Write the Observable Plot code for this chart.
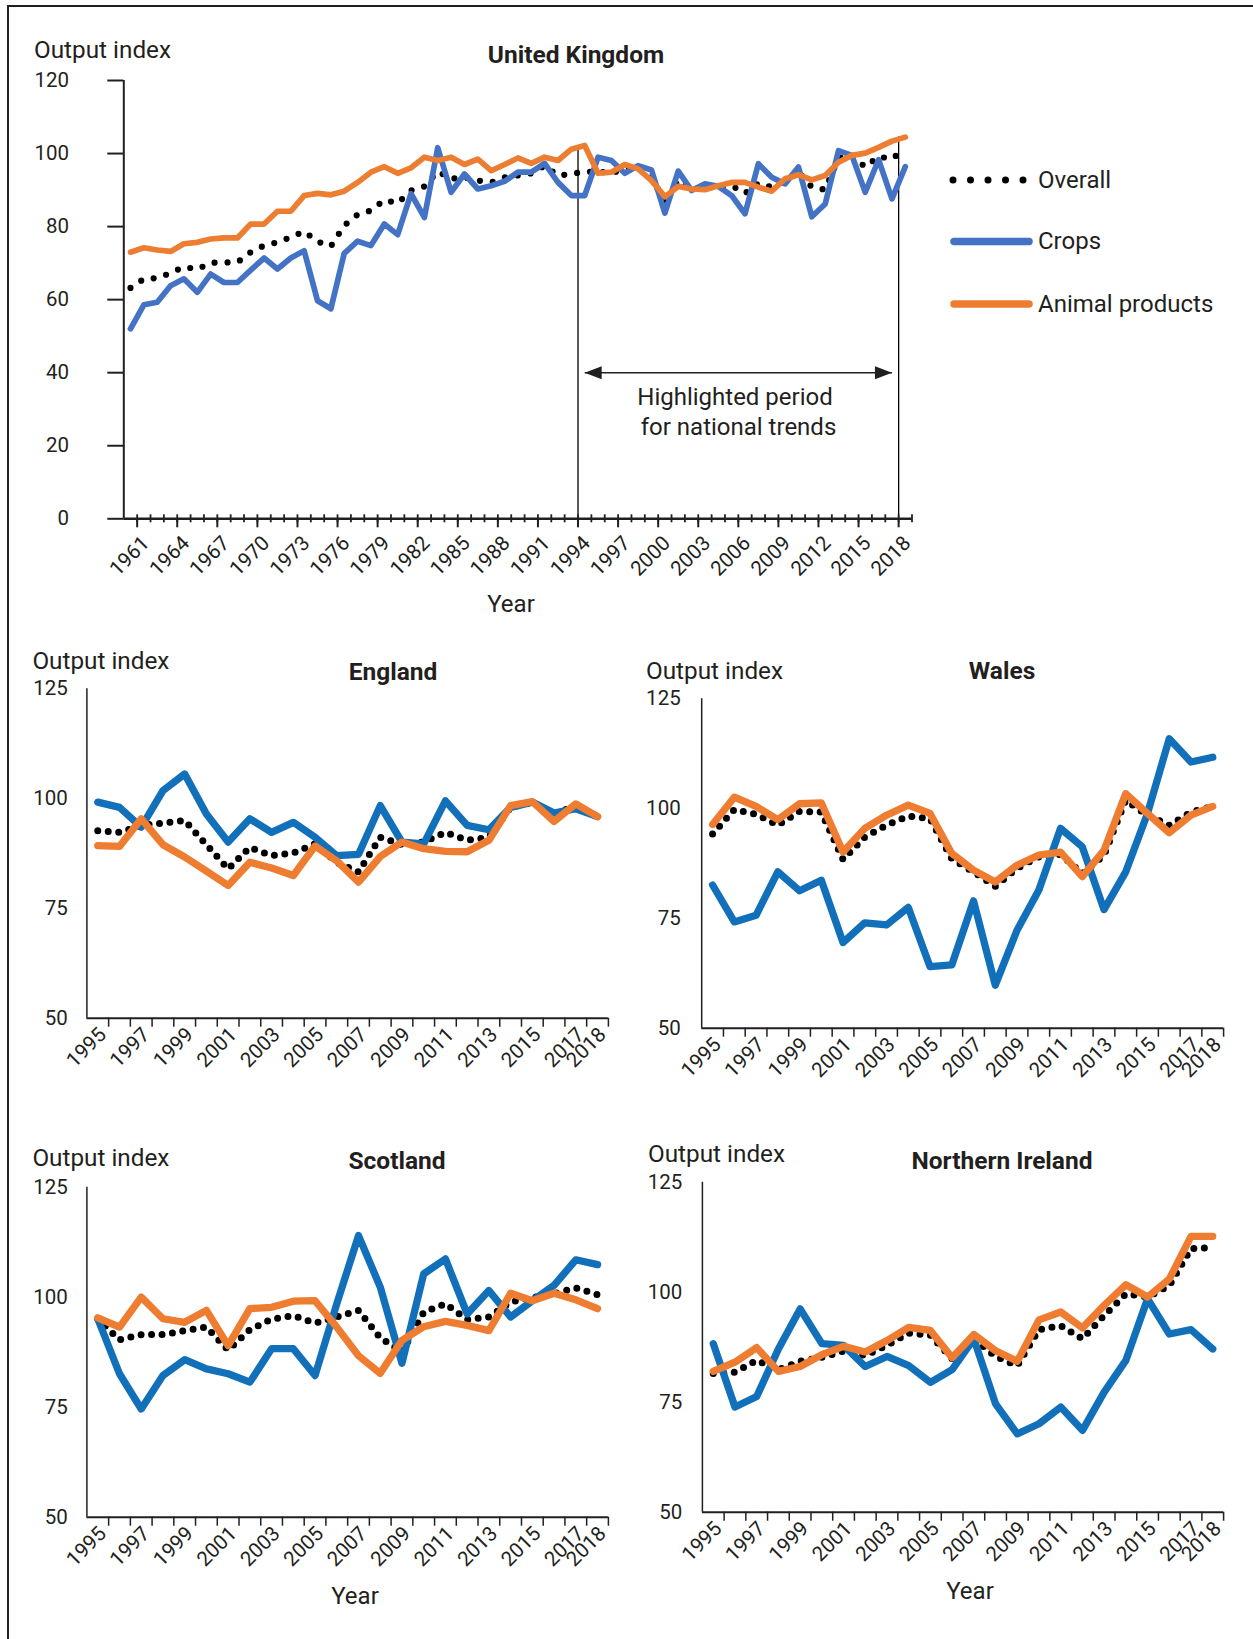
<!DOCTYPE html>
<html><head><meta charset="utf-8">
<script src="https://cdn.jsdelivr.net/npm/d3@7"></script>
<script src="https://cdn.jsdelivr.net/npm/@observablehq/plot@0.6"></script>
<style>
html,body{margin:0;padding:0;background:#fff;}
body{width:1253px;height:1639px;position:relative;overflow:hidden;font-family:Roboto,"Noto Sans",sans-serif;color:#231f20;}
.frame{position:absolute;left:7px;top:5px;right:-5px;bottom:-5px;border-top:2.5px solid #231f20;border-left:2.5px solid #231f20;}
.t{position:absolute;white-space:nowrap;line-height:1;}
.panel{position:absolute;}
.panel svg{background:transparent;}
</style></head><body>
<div class="frame"></div>
<script>
// ---------- Data ----------
const seriesNames = ["Overall", "Crops", "Animal products"];

// United Kingdom, one value per year
const ukYears = d3.range(1960, 2019);
const ukTickYears = [1961,1964,1967,1970,1973,1976,1979,1982,1985,1988,1991,1994,1997,2000,2003,2006,2009,2012,2015,2018];
const ukYTicks = [0, 20, 40, 60, 80, 100, 120];
const highlightYears = [1994, 2018];
const ukOverall = [63.2,65.7,65.9,67.3,69.0,68.3,70.1,70.2,70.2,73.0,74.8,75.7,77.1,78.7,75.9,74.6,80.3,83.3,84.4,87.3,86.4,89.9,91.0,95.1,93.1,93.5,92.6,92.1,93.5,94.0,94.6,96.7,94.0,94.4,95.1,94.9,94.9,95.3,96.0,93.8,86.4,92.7,90.1,90.8,91.1,91.2,89.1,91.9,90.8,92.5,95.0,90.8,90.1,98.8,99.5,96.3,99.2,98.5,101.5];
const ukCrops = [52.0,58.6,59.3,63.8,65.7,62.0,67.0,64.7,64.7,68.1,71.4,68.4,71.4,73.4,59.7,57.5,72.7,76.0,74.8,80.7,77.8,89.0,82.5,101.6,89.4,94.4,90.3,91.2,92.4,94.9,94.9,97.3,92.1,88.5,88.5,99.0,98.1,94.6,96.7,95.5,83.7,95.2,89.9,91.7,91.0,88.5,83.5,97.2,93.5,91.7,96.3,82.7,86.2,100.8,99.5,89.4,98.3,87.6,96.4];
const ukAnimal = [73.0,74.2,73.6,73.2,75.3,75.7,76.6,76.9,76.9,80.7,80.7,84.2,84.2,88.5,89.1,88.7,89.7,92.1,94.9,96.4,94.6,96.1,99.0,98.1,99.0,97.0,98.5,95.3,97.0,98.8,97.3,99.0,98.1,101.2,102.2,94.6,94.9,97.0,95.8,92.6,88.2,91.0,90.3,90.1,91.2,92.1,92.1,90.8,89.7,93.1,94.2,92.8,94.0,97.6,99.5,100.1,101.7,103.4,104.5];

// National panels 1995-2018
const natYears = d3.range(1995, 2019);
const natTickYears = [1995,1997,1999,2001,2003,2005,2007,2009,2011,2013,2015,2017,2018];
const natYTicks = [50, 75, 100, 125];

const englandOverall = [92.7,92.3,93.9,94.4,95.0,89.5,84.0,88.9,87.0,87.6,89.7,85.5,83.3,91.2,89.5,90.1,92.3,90.5,91.2,98.0,99.2,96.5,98.4,95.9];
const englandCrops   = [99.2,98.0,93.5,101.8,105.6,96.5,90.1,95.4,92.3,94.6,91.2,87.0,87.3,98.4,90.1,89.7,99.5,93.9,92.9,98.0,99.2,96.7,97.7,95.9];
const englandAnimal  = [89.3,89.1,95.4,89.5,86.7,83.5,80.2,85.5,84.2,82.5,89.2,85.8,81.0,86.8,90.1,88.6,88.0,87.9,90.5,98.4,99.3,94.8,98.8,95.9];

const walesOverall = [94.2,99.8,98.7,96.2,99.4,99.2,88.4,93.5,96.2,98.3,97.7,88.6,85.6,82.3,86.4,89.0,89.6,85.2,89.4,101.9,98.5,96.2,99.2,100.5];
const walesCrops   = [82.6,74.2,75.7,85.6,81.3,83.7,69.5,74.0,73.5,77.5,64.0,64.4,79.0,59.8,72.3,81.4,95.5,91.3,77.0,85.6,98.9,115.9,110.6,111.7];
const walesAnimal  = [96.4,102.6,100.5,97.5,101.1,101.3,90.1,95.5,98.5,100.8,98.9,89.8,86.0,83.3,87.1,89.4,90.1,84.5,90.5,103.4,98.9,94.5,98.5,100.5];

const scotlandOverall = [95.1,90.3,91.5,91.5,92.4,93.2,88.0,92.6,95.0,95.8,94.1,95.5,97.0,90.8,87.5,96.6,98.5,94.9,95.5,98.9,99.9,100.8,102.1,100.6];
const scotlandCrops   = [95.1,82.6,74.6,82.2,85.8,83.7,82.6,80.7,88.3,88.3,82.2,98.5,114.0,102.3,85.0,105.3,108.7,96.2,101.5,95.5,99.2,102.7,108.5,107.4];
const scotlandAnimal  = [95.3,93.2,100.0,95.1,94.3,97.0,89.0,97.4,97.7,99.1,99.2,93.2,86.7,82.7,90.2,93.3,94.5,93.6,92.4,100.9,99.2,100.9,99.4,97.4];

const niOverall = [81.5,81.8,84.5,82.4,84.3,85.2,86.6,85.6,87.9,90.7,90.2,84.9,89.4,85.4,83.3,91.5,92.4,89.4,94.7,99.6,98.9,101.5,109.9,110.1];
const niCrops   = [88.3,73.9,76.3,87.1,96.2,88.3,87.9,83.1,85.4,83.3,79.5,82.4,89.4,74.6,67.8,70.1,73.9,68.6,77.3,84.5,98.5,90.5,91.5,87.1];
const niAnimal  = [82.0,84.1,87.4,82.0,83.1,85.8,87.7,86.4,89.0,92.0,91.3,85.1,90.4,86.7,84.3,93.7,95.5,91.9,97.0,101.7,98.9,103.0,112.7,112.7];

// ---------- Helpers ----------
const INK = "#231f20";
function toRows(years, overall, crops, animal) {
  return years.flatMap((year, i) => [
    {year, series: seriesNames[0], value: overall[i]},
    {year, series: seriesNames[1], value: crops[i]},
    {year, series: seriesNames[2], value: animal[i]}
  ]);
}
function seriesMarks(rows, st) {
  return [
    Plot.line(rows.filter(d => d.series === seriesNames[0]), {x: "year", y: "value", stroke: "#000", strokeWidth: st.dotW, strokeDasharray: `0 ${st.dotGap}`, strokeLinecap: "round", strokeLinejoin: "round"}),
    Plot.line(rows.filter(d => d.series === seriesNames[1]), {x: "year", y: "value", stroke: st.blue, strokeWidth: st.lineW, strokeLinecap: "round", strokeLinejoin: "round"}),
    Plot.line(rows.filter(d => d.series === seriesNames[2]), {x: "year", y: "value", stroke: st.orange, strokeWidth: st.lineW, strokeLinecap: "round", strokeLinejoin: "round"})
  ];
}
function place(node, left, top) {
  const d = document.createElement("div");
  d.className = "panel"; d.style.left = left + "px"; d.style.top = top + "px";
  d.appendChild(node); document.body.appendChild(d);
}
function label(text, x, y, opts = {}) {
  const {size = 24, weight = 400, anchor = "start"} = opts;
  const d = document.createElement("div");
  d.className = "t"; d.textContent = text;
  d.style.left = x + "px"; d.style.top = y + "px";
  d.style.fontSize = size + "px"; d.style.fontWeight = weight;
  d.style.transform = anchor === "middle" ? "translate(-50%,-50%)" : "translate(0,-50%)";
  document.body.appendChild(d);
}
const baseStyle = {fontFamily: "Roboto, 'Noto Sans', sans-serif", color: INK, background: "transparent", overflow: "visible"};

// Arrow heads (tip at the origin)
const headRight = {draw(c) { c.moveTo(0, 0); c.lineTo(-17, -6.5); c.lineTo(-17, 6.5); c.closePath(); }};
const headLeft  = {draw(c) { c.moveTo(0, 0); c.lineTo(17, -6.5); c.lineTo(17, 6.5); c.closePath(); }};

// ---------- United Kingdom ----------
const ukRows = toRows(ukYears, ukOverall, ukCrops, ukAnimal);
const ukX0 = d3.min(ukYears) - 0.5, ukX1 = d3.max(ukYears) + 0.5;
const ukMaxAt = yr => d3.max([ukOverall, ukCrops, ukAnimal], s => s[ukYears.indexOf(yr)]);
const arrow = [{from: highlightYears[0], to: highlightYears[1] - 1, y: ukYTicks[2]}];

const ukChart = Plot.plot({
  width: 960, height: 640,
  marginLeft: 123.3, marginRight: 48.5, marginTop: 80, marginBottom: 121.7,
  x: {domain: [ukX0, ukX1]},
  y: {domain: [d3.min(ukYTicks), d3.max(ukYTicks)]},
  style: baseStyle,
  marks: [
    Plot.ruleX(highlightYears, {x: d => d - 0.5, y1: 0, y2: d => ukMaxAt(d), stroke: "#000", strokeWidth: 1.3}),
    ...seriesMarks(ukRows, {blue: "#4472C4", orange: "#ED7D31", lineW: 5.7, dotW: 6.2, dotGap: 13}),
    Plot.ruleX([ukX0], {stroke: INK, strokeWidth: 2}),
    Plot.ruleY([0], {stroke: INK, strokeWidth: 2.5}),
    Plot.axisY({ticks: ukYTicks, tickSize: 16, tickPadding: 38.8, fontSize: 20.5, strokeWidth: 2, label: null}),
    Plot.axisX({ticks: ukYears.map(y => y + 0.5), tickSize: 8, dy: -4, tickFormat: () => "", strokeWidth: 1.8, label: null}),
    Plot.axisX({ticks: ukTickYears.map(y => y - 0.5), tickSize: 9, tickFormat: () => "", strokeWidth: 2, label: null}),
    Plot.axisX({ticks: ukTickYears, tickSize: 0, tickPadding: 21, tickRotate: -45, fontSize: 20.5, dx: 2, tickFormat: d => String(d), label: null}),
    Plot.link(arrow, {x1: "from", x2: "to", y1: "y", y2: "y", stroke: INK, strokeWidth: 1.6}),
    Plot.dot(arrow, {x: "to", y: "y", symbol: headRight, fill: INK, stroke: "none"}),
    Plot.dot(arrow, {x: "from", y: "y", symbol: headLeft, fill: INK, stroke: "none"})
  ]
});
place(ukChart, 0, 0);

label("Output index", 34, 50, {size: 24.3});
label("United Kingdom", 576, 55, {anchor: "middle", weight: 700, size: 24.5});
label("Year", 511, 604, {anchor: "middle"});
label("Highlighted period", 735, 397, {anchor: "middle"});
label("for national trends", 738.5, 427, {anchor: "middle"});

// Legend
(function legend() {
  const svg = d3.create("svg").attr("width", 100).attr("height", 160).style("overflow", "visible");
  const g = svg.append("g");
  const ys = [10, 71.5, 134];
  g.append("line").attr("x1", 3).attr("x2", 73.5).attr("y1", ys[0]).attr("y2", ys[0])
    .attr("stroke", "#000").attr("stroke-width", 7).attr("stroke-dasharray", "0 17.5").attr("stroke-linecap", "round");
  g.append("line").attr("x1", 4).attr("x2", 79).attr("y1", ys[1]).attr("y2", ys[1])
    .attr("stroke", "#4472C4").attr("stroke-width", 7.5).attr("stroke-linecap", "round");
  g.append("line").attr("x1", 4).attr("x2", 79).attr("y1", ys[2]).attr("y2", ys[2])
    .attr("stroke", "#ED7D31").attr("stroke-width", 7.5).attr("stroke-linecap", "round");
  place(svg.node(), 950, 169.5);
  label(seriesNames[0], 1038, 179.5);
  label(seriesNames[1], 1038, 241);
  label(seriesNames[2], 1038, 303.5);
})();

// ---------- National panels ----------
const natStyle = {blue: "#1170B9", orange: "#EE7D31", lineW: 7.3, dotW: 7, dotGap: 10.5};
function nationalChart(rows, w, h, m, padY) {
  const x0 = d3.min(natYears) - 0.5, x1 = d3.max(natYears) + 0.5;
  return Plot.plot({
    width: w, height: h,
    marginLeft: m[3], marginRight: m[1], marginTop: m[0], marginBottom: m[2],
    x: {domain: [x0, x1]},
    y: {domain: [d3.min(natYTicks), d3.max(natYTicks)]},
    style: baseStyle,
    marks: [
      ...seriesMarks(rows, natStyle),
      Plot.ruleX([x0], {stroke: INK, strokeWidth: 1.5}),
      Plot.ruleY([d3.min(natYTicks)], {stroke: INK, strokeWidth: 2}),
      Plot.axisY({ticks: natYTicks, tickSize: 0, tickPadding: padY, fontSize: 20.5, label: null}),
      Plot.axisX({ticks: natYears.map(y => y + 0.5), tickSize: 9, tickFormat: () => "", strokeWidth: 1.5, label: null}),
      Plot.axisX({ticks: natTickYears, tickSize: 0, tickPadding: 13, tickRotate: -45, fontSize: 20.5, dx: 5, tickFormat: d => String(d), label: null})
    ]
  });
}

place(nationalChart(toRows(natYears, englandOverall, englandCrops, englandAnimal), 640, 460, [48.3, 32.1, 82.3, 86.4], 19), 0, 640);
label("Output index", 32.4, 661, {size: 24.3});
label("England", 393, 671.5, {anchor: "middle", weight: 700, size: 24.5});

place(nationalChart(toRows(natYears, walesOverall, walesCrops, walesAnimal), 613, 460, [58.3, 29.9, 72.3, 61.2], 21), 640, 640);
label("Output index", 646, 671, {size: 24.3});
label("Wales", 1002, 671, {anchor: "middle", weight: 700, size: 24.5});

place(nationalChart(toRows(natYears, scotlandOverall, scotlandCrops, scotlandAnimal), 640, 529, [76.7, 32.1, 122.3, 86.4], 19), 0, 1110);
label("Output index", 32.4, 1158, {size: 24.3});
label("Scotland", 397, 1161, {anchor: "middle", weight: 700, size: 24.5});
label("Year", 355, 1596, {anchor: "middle"});

place(nationalChart(toRows(natYears, niOverall, niCrops, niAnimal), 613, 529, [71.7, 29.9, 127.3, 61.9], 20), 640, 1110);
label("Output index", 648, 1154, {size: 24.3});
label("Northern Ireland", 1002, 1161, {anchor: "middle", weight: 700, size: 24.5});
label("Year", 970, 1591, {anchor: "middle"});
</script>
</body></html>
